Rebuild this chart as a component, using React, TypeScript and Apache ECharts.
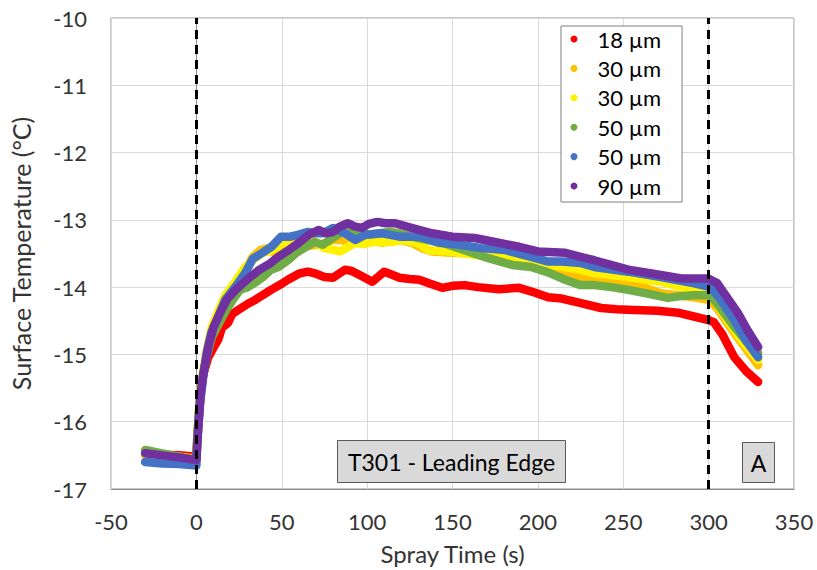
import React, { useEffect, useRef } from "react";
import * as echarts from "echarts";

const seriesNames = ["18 µm", "30 µm", "30 µm", "50 µm", "50 µm", "90 µm"];
const seriesColors = ["#FF0000", "#FFC000", "#FFF200", "#70AD47", "#4472C4", "#7030A0"];

const red18: number[][] = [
  [-30, -16.47], [-20, -16.49], [-10, -16.5], [0, -16.52], [0.5, -16.3], [1.2, -16.0], [2.5, -15.6], [4, -15.3],
  [7, -15.04], [10, -14.9], [12.8, -14.78], [15, -14.6], [18.6, -14.53], [21, -14.4], [24.5, -14.34], [30, -14.25],
  [34.4, -14.19], [40, -14.1], [43.7, -14.04], [50, -13.95], [53.6, -13.89], [60, -13.8], [65.3, -13.77], [70, -13.8],
  [75, -13.85], [80, -13.86], [87, -13.74], [91, -13.76], [95.6, -13.82], [103, -13.92], [110, -13.77], [115, -13.82],
  [119, -13.86], [125, -13.88], [130.5, -13.89], [137, -13.95], [144, -14.01], [150, -13.98], [157, -13.97], [165, -14.0],
  [177, -14.03], [189, -14.01], [198, -14.08], [206, -14.15], [214, -14.17], [224, -14.23], [237, -14.31], [246, -14.33],
  [256, -14.34], [270, -14.35], [282, -14.38], [292, -14.44], [300, -14.49], [303, -14.52], [308, -14.7], [315, -15.04],
  [322, -15.25], [329, -15.41],
];

const orange30: number[][] = [
  [-30, -16.5], [-20, -16.52], [-10, -16.53], [0, -16.55], [0.5, -16.2], [1.5, -15.9], [2.5, -15.55], [4, -15.3],
  [6, -15.0], [9, -14.65], [13, -14.4], [17, -14.15], [22, -13.95], [28, -13.78], [33, -13.55], [37.5, -13.45],
  [42, -13.42], [46, -13.5], [52, -13.35], [57, -13.3], [62, -13.4], [68, -13.38], [75, -13.35], [80, -13.3],
  [84, -13.3], [90, -13.32], [96, -13.28], [101, -13.3], [109, -13.34], [115, -13.3], [120, -13.3], [127, -13.35],
  [132, -13.42], [138, -13.47], [150, -13.49], [163, -13.5], [177, -13.55], [186, -13.6], [196, -13.64], [206, -13.7],
  [216, -13.77], [225, -13.85], [233, -13.85], [243, -13.9], [253, -13.94], [262, -14.0], [272, -14.09], [282, -14.12],
  [291, -14.15], [301, -14.19], [306, -14.35], [315, -14.68], [322, -14.92], [329, -15.16],
];

const yellow30: number[][] = [
  [-30, -16.48], [-20, -16.5], [-10, -16.52], [0, -16.55], [0.5, -16.25], [1.5, -15.85], [2.5, -15.5], [4, -15.25],
  [6, -14.95], [9, -14.6], [13, -14.35], [17, -14.12], [22, -13.95], [28, -13.72], [33, -13.6], [38, -13.5],
  [44, -13.45], [50, -13.38], [56, -13.32], [62, -13.34], [68, -13.3], [75, -13.42], [81, -13.45], [84, -13.47],
  [87, -13.43], [93, -13.34], [98, -13.36], [103, -13.33], [114, -13.33], [122, -13.3], [130, -13.35], [136, -13.45],
  [148, -13.47], [163, -13.52], [177, -13.55], [192, -13.62], [208, -13.67], [225, -13.74], [233, -13.79], [253, -13.85],
  [272, -13.92], [291, -14.04], [301, -14.09], [306, -14.3], [315, -14.64], [322, -14.87], [329, -15.08],
];

const green50: number[][] = [
  [-30, -16.42], [-20, -16.47], [-10, -16.52], [0, -16.57], [0.5, -16.25], [1.5, -15.85], [2.5, -15.55], [4, -15.3],
  [6, -15.04], [9, -14.75], [13, -14.55], [17.5, -14.34], [21, -14.2], [25.6, -14.04], [30, -14.0], [34, -13.94],
  [39, -13.85], [43.7, -13.74], [48, -13.7], [53.6, -13.6], [58, -13.5], [63, -13.42], [69, -13.33], [74, -13.37],
  [78, -13.3], [81, -13.25], [87, -13.15], [94, -13.2], [101, -13.22], [107, -13.2], [113, -13.18], [119, -13.2],
  [130, -13.27], [144, -13.34], [157, -13.45], [171, -13.57], [185, -13.67], [196, -13.7], [206, -13.78], [216, -13.89],
  [225, -13.97], [233, -13.97], [243, -14.0], [253, -14.04], [265, -14.1], [276, -14.16], [285, -14.13], [291, -14.12],
  [301, -14.12], [306, -14.28], [315, -14.59], [322, -14.8], [329, -14.98],
];

const blue50: number[][] = [
  [-30, -16.6], [-20, -16.62], [-10, -16.63], [0, -16.65], [0.5, -16.3], [1.2, -16.05], [2.3, -15.7], [4, -15.33],
  [6, -14.98], [8.7, -14.68], [12.8, -14.44], [16.9, -14.19], [22.7, -14.0], [28.6, -13.79], [33, -13.58], [38, -13.5],
  [44, -13.4], [49.6, -13.25], [55, -13.25], [60, -13.22], [65, -13.18], [70, -13.2], [74, -13.2], [80, -13.12],
  [87, -13.2], [93, -13.3], [99, -13.22], [109, -13.2], [119, -13.25], [130.5, -13.25], [142, -13.34], [154, -13.37],
  [167, -13.42], [181, -13.45], [196, -13.55], [206, -13.62], [214, -13.62], [225, -13.64], [233, -13.7], [253, -13.77],
  [272, -13.85], [291, -13.94], [301, -14.0], [306, -14.15], [315, -14.49], [322, -14.8], [329, -15.04],
];

const purple90: number[][] = [
  [-30, -16.47], [-20, -16.5], [-10, -16.53], [0, -16.57], [0.5, -16.35], [1.2, -16.05], [2.3, -15.63], [4, -15.3],
  [7, -14.89], [10, -14.6], [13.9, -14.38], [18, -14.18], [23, -14.04], [30, -13.88], [37, -13.74], [43, -13.65],
  [48, -13.55], [54, -13.45], [60, -13.34], [66, -13.22], [71.5, -13.15], [76, -13.2], [80, -13.18], [84, -13.1],
  [88.6, -13.05], [93, -13.1], [97, -13.12], [101, -13.06], [106, -13.03], [111, -13.05], [116.5, -13.05], [126, -13.12],
  [138, -13.2], [150, -13.25], [163, -13.27], [177, -13.34], [189, -13.4], [200, -13.47], [216, -13.49], [225, -13.55],
  [233, -13.6], [253, -13.74], [272, -13.82], [284, -13.87], [299.5, -13.87], [305, -13.94], [317, -14.38], [323, -14.65],
  [329, -14.89],
];

const allSeries = [red18, orange30, yellow30, green50, blue50, purple90];
const sprayMarks = [0, 300];
const boxLabels = ["T301 - Leading Edge", "A"];

const FONT = "Lato";

export default function App() {
  const ref = useRef<HTMLDivElement>(null);
  useEffect(() => {
    document.body.style.margin = "0";
    if (!ref.current) return;
    const chart = echarts.init(ref.current, null, { renderer: "svg" });
    // unique internal ids so duplicate display names get their own legend entries
    const ids = seriesNames.map((n, i) => n + "|" + i);
    const series: any[] = [
      {
        type: "line",
        name: "marks",
        data: [],
        silent: true,
        markLine: {
          silent: true,
          symbol: "none",
          label: { show: false },
          lineStyle: { color: "#000", width: 3, type: [9, 6] },
          data: sprayMarks.map((v) => ({ xAxis: v })),
        },
      },
    ];
    allSeries.forEach((d, i) => {
      series.push({
        type: "line",
        name: ids[i],
        data: d,
        color: seriesColors[i],
        showSymbol: false,
        symbol: "circle",
        itemStyle: { color: seriesColors[i] },
        lineStyle: { width: 8.5, color: seriesColors[i], cap: "round", join: "round" },
      });
    });
    chart.setOption({
      animation: false,
      backgroundColor: "#fff",
      textStyle: { fontFamily: FONT },
      grid: { left: 107, right: 23, top: 18, bottom: 81, show: true, borderColor: "#8c8c8c", borderWidth: 1 },
      legend: {
        show: true,
        orient: "vertical",
        left: 561,
        top: 26,
        z: 20,
        data: ids.map((n, i) => ({ name: n, icon: "circle", itemStyle: { color: seriesColors[i] } })),
        formatter: (n: string) => n.split("|")[0],
        itemWidth: 37,
        itemHeight: 7,
        itemGap: 7.4,
        padding: [2, 21, 5, 9.5],
        borderColor: "#7f7f7f",
        borderWidth: 1,
        backgroundColor: "#fff",
        textStyle: { fontFamily: FONT, fontSize: 22, color: "#000", lineHeight: 20 },
        selectedMode: false,
      },
      xAxis: {
        type: "value",
        min: -50,
        max: 350,
        interval: 50,
        name: "Spray Time (s)",
        nameLocation: "middle",
        nameGap: 52,
        nameTextStyle: { fontFamily: FONT, fontSize: 24, color: "#333" },
        axisLine: { show: true, lineStyle: { color: "#8c8c8c" } },
        axisTick: { show: false },
        axisLabel: { fontFamily: FONT, fontSize: 22, color: "#333", margin: 21 },
        splitLine: { show: true, lineStyle: { color: "#d9d9d9" } },
      },
      yAxis: {
        type: "value",
        min: -17,
        max: -10,
        interval: 1,
        name: "Surface Temperature (°C)",
        nameLocation: "middle",
        nameGap: 78,
        nameTextStyle: { fontFamily: FONT, fontSize: 25, color: "#333" },
        axisLine: { show: true, lineStyle: { color: "#8c8c8c" } },
        axisTick: { show: false },
        axisLabel: { fontFamily: FONT, fontSize: 22, color: "#333", margin: 24 },
        splitLine: { show: true, lineStyle: { color: "#d9d9d9" } },
      },
      graphic: [
        {
          type: "group",
          left: 337,
          top: 440,
          z: 100,
          children: [
            { type: "rect", z: 100, shape: { x: 0, y: 0, width: 228, height: 42 }, style: { fill: "#d9d9d9", stroke: "#595959", lineWidth: 1 } },
            {
              type: "text",
              z: 101,
              x: 114,
              y: 21,
              style: { text: boxLabels[0], fontFamily: FONT, fontSize: 23, fill: "#000", align: "center", verticalAlign: "middle" },
            },
          ],
        },
        {
          type: "group",
          left: 742,
          top: 442,
          z: 100,
          children: [
            { type: "rect", z: 100, shape: { x: 0, y: 0, width: 32, height: 40 }, style: { fill: "#d9d9d9", stroke: "#595959", lineWidth: 1 } },
            {
              type: "text",
              z: 101,
              x: 16,
              y: 20,
              style: { text: boxLabels[1], fontFamily: FONT, fontSize: 23, fill: "#000", align: "center", verticalAlign: "middle" },
            },
          ],
        },
      ],
      series,
    });
    return () => chart.dispose();
  }, []);
  return <div ref={ref} style={{ width: 817, height: 570 }} />;
}
